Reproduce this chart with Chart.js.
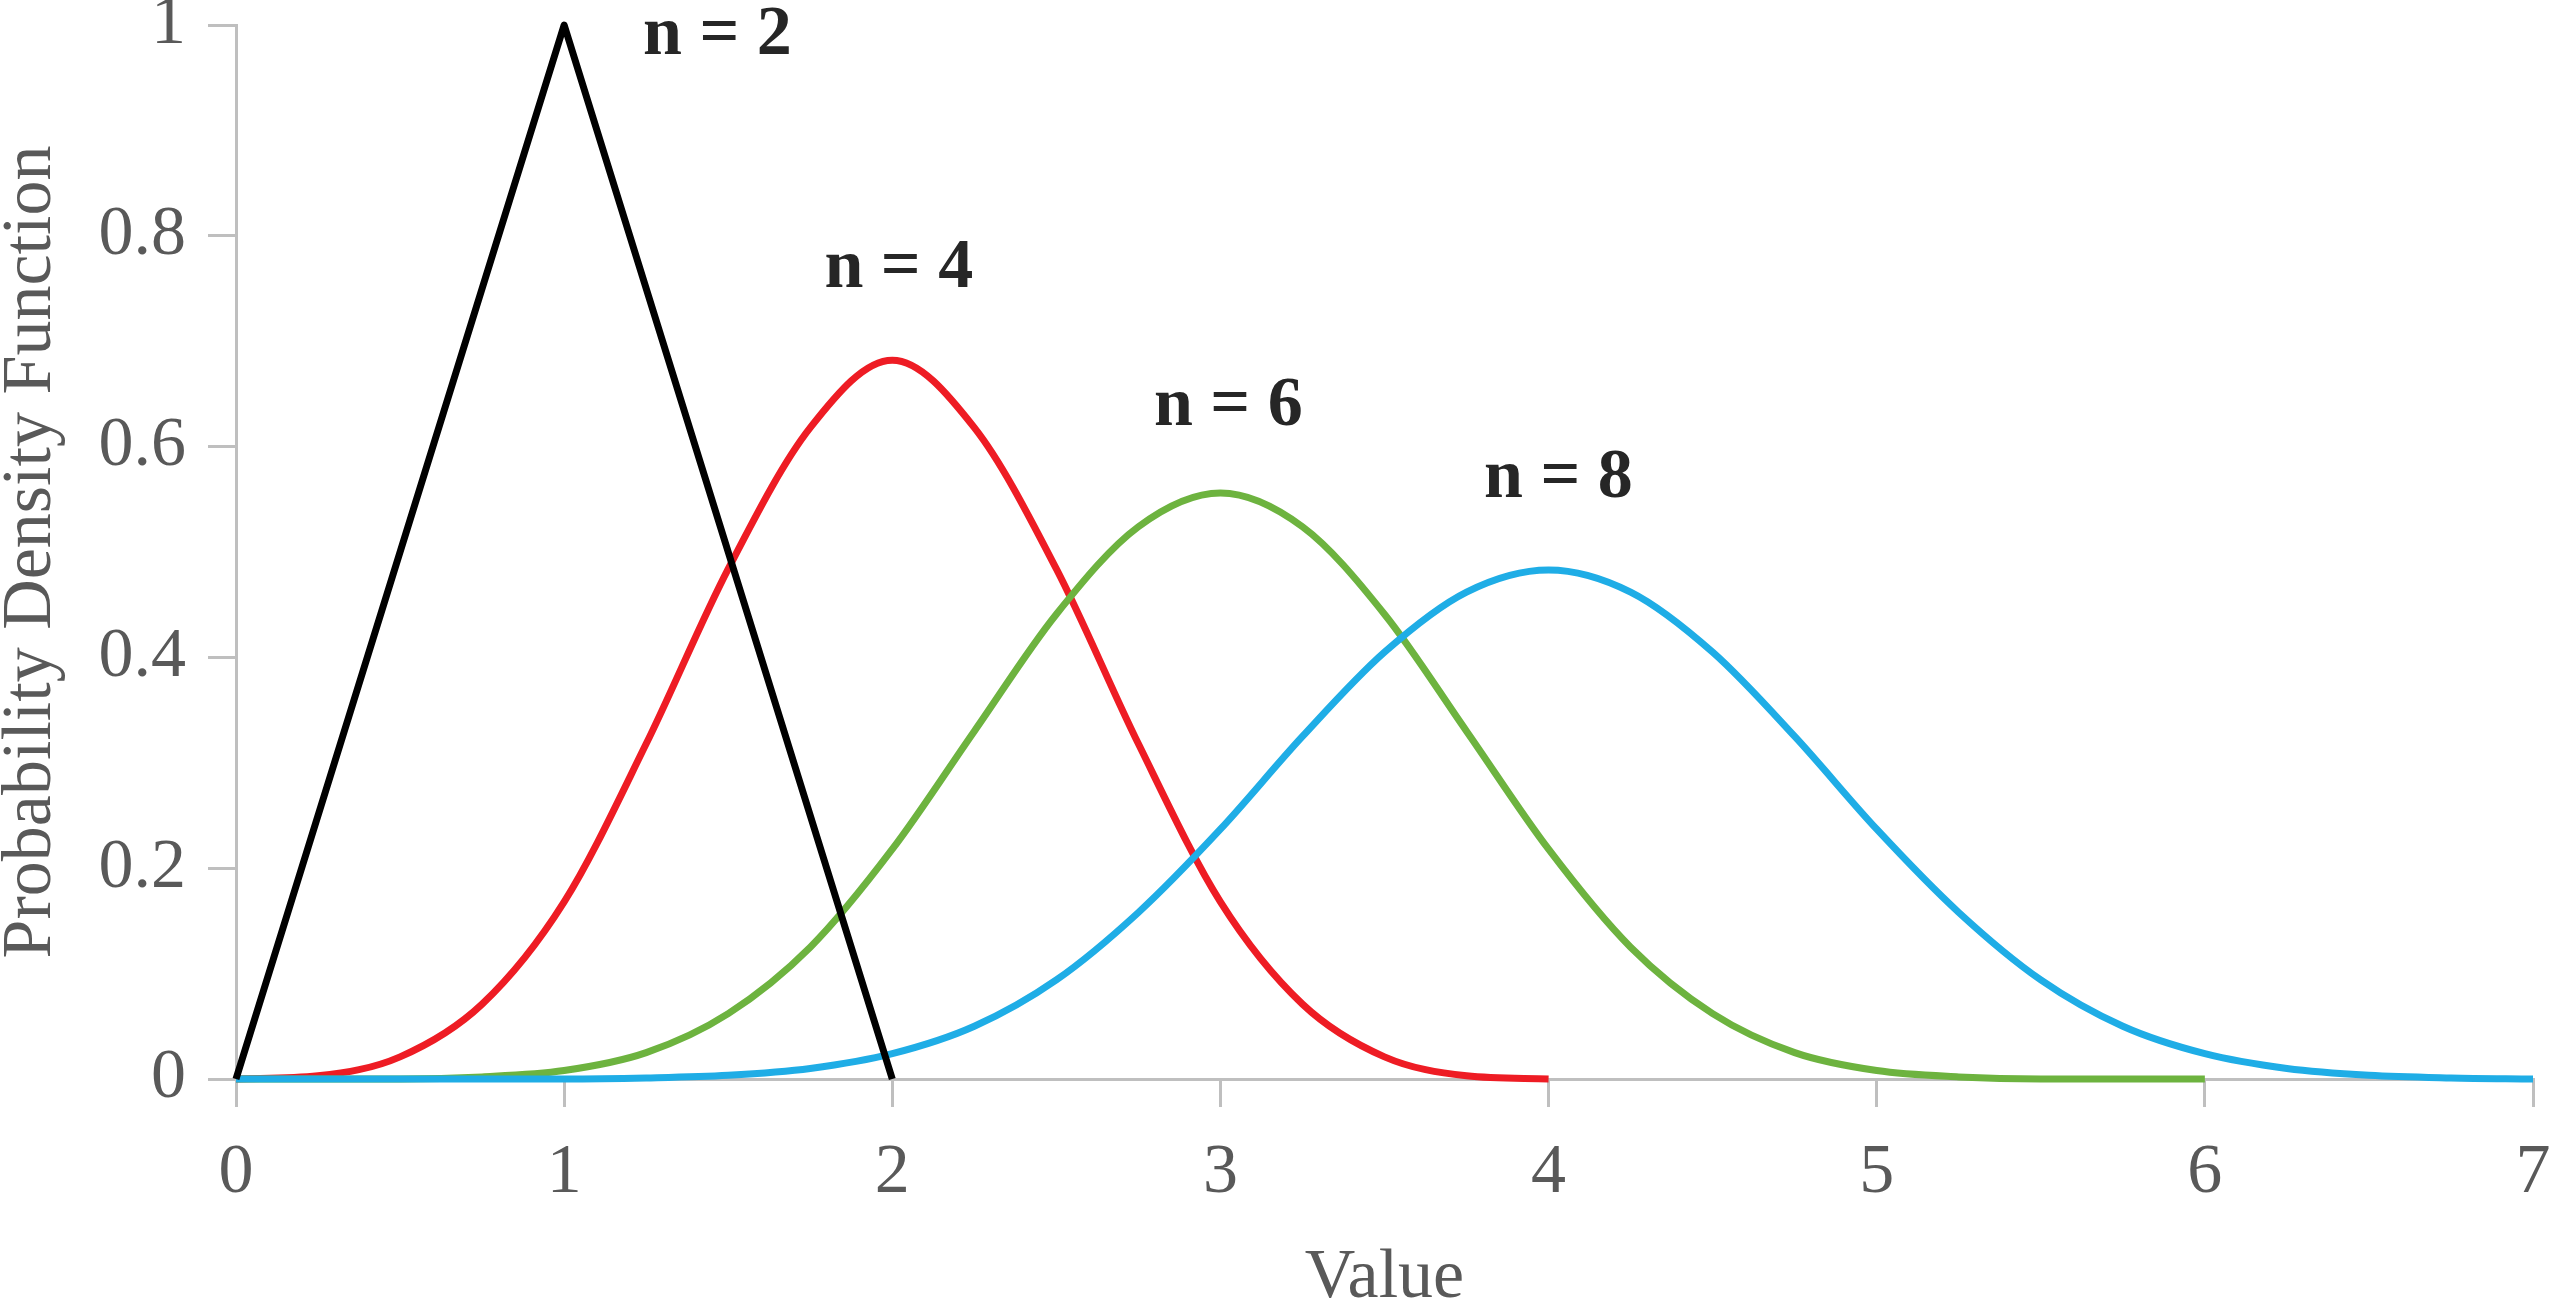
<!DOCTYPE html>
<html>
<head>
<meta charset="utf-8">
<script src="https://cdn.jsdelivr.net/npm/chart.js@4.4.1/dist/chart.umd.min.js"></script>
<style>
  html, body { margin: 0; padding: 0; background: #fff; }
  #wrap { width: 2551px; height: 1307px; }
</style>
</head>
<body>
<div id="wrap"><canvas id="chart-pdf"></canvas></div>
<script>
// values
var blackX = [0, 1, 2];
var blackY = [0, 1, 0];

var redX = [0, 0.25, 0.5, 0.75, 1, 1.25, 1.5, 1.75, 2, 2.25, 2.5, 2.75, 3, 3.25, 3.5, 3.75, 4];
var redY = [0, 0.003, 0.021, 0.071, 0.168, 0.318, 0.484, 0.618, 0.682, 0.618, 0.484, 0.318, 0.168, 0.071, 0.021, 0.003, 0];

var greenX = [0, 0.25, 0.5, 0.75, 1, 1.25, 1.5, 1.75, 2, 2.25, 2.5, 2.75, 3, 3.25, 3.5, 3.75, 4, 4.25, 4.5, 4.75, 5, 5.25, 5.5, 5.75, 6];
var greenY = [0, 0, 0, 0.002, 0.008, 0.025, 0.062, 0.125, 0.218, 0.33, 0.441, 0.524, 0.556, 0.524, 0.441, 0.33, 0.218, 0.125, 0.062, 0.025, 0.008, 0.002, 0, 0, 0];

var blueX = [0, 0.25, 0.5, 0.75, 1, 1.25, 1.5, 1.75, 2, 2.25, 2.5, 2.75, 3, 3.25, 3.5, 3.75, 4, 4.25, 4.5, 4.75, 5, 5.25, 5.5, 5.75, 6, 6.25, 6.5, 6.75, 7];
var blueY = [0, 0, 0, 0, 0, 0.001, 0.0035, 0.01, 0.024, 0.05, 0.094, 0.158, 0.237, 0.325, 0.405, 0.462, 0.483, 0.462, 0.405, 0.325, 0.237, 0.158, 0.094, 0.05, 0.024, 0.01, 0.0035, 0.001, 0];

var xTicks = [0, 1, 2, 3, 4, 5, 6, 7];
var yTicks = [0, 0.2, 0.4, 0.6, 0.8, 1];

var labelText = ["n = 2", "n = 4", "n = 6", "n = 8"];
var labelX = [1.467, 2.02, 3.024, 4.03];
var labelY = [0.99, 0.769, 0.638, 0.569];

function pts(xs, ys) {
    return xs.map(function (x, i) { return { x: x, y: ys[i] }; });
}

var axisGrey = "#bfbfbf";
var textGrey = "#595959";
var serif = "'Liberation Serif', 'Times New Roman', serif";

var curveLabels = {
    id: "curveLabels",
    afterDatasetsDraw: function (chart) {
        var ctx = chart.ctx;
        var xs = chart.scales.x, ys = chart.scales.y;
        ctx.save();
        ctx.font = "bold 70px " + serif;
        ctx.fillStyle = "#262626";
        ctx.textAlign = "center";
        ctx.textBaseline = "middle";
        for (var i = 0; i < labelText.length; i++) {
            ctx.fillText(labelText[i], xs.getPixelForValue(labelX[i]), ys.getPixelForValue(labelY[i]));
        }
        ctx.restore();
    }
};

var ctx = document.getElementById("chart-pdf").getContext("2d");

new Chart(ctx, {
type: "line",
data: {
    datasets: [{
        label: "n = 2",
        data: pts(blackX, blackY),
        borderColor: "#000000",
        borderWidth: 7,
        tension: 0,
        borderJoinStyle: "round",
        pointRadius: 0,
        clip: false
    },
    {
        label: "n = 8",
        data: pts(blueX, blueY),
        borderColor: "#1fade6",
        borderWidth: 7,
        cubicInterpolationMode: "monotone",
        pointRadius: 0,
        clip: false
    },
    {
        label: "n = 6",
        data: pts(greenX, greenY),
        borderColor: "#6db33f",
        borderWidth: 7,
        cubicInterpolationMode: "monotone",
        pointRadius: 0,
        clip: false
    },
    {
        label: "n = 4",
        data: pts(redX, redY),
        borderColor: "#ee1c24",
        borderWidth: 7,
        cubicInterpolationMode: "monotone",
        pointRadius: 0,
        clip: false
    }
    ]
},
options: {
    responsive: true,
    maintainAspectRatio: false,
    animation: false,
    layout: {
        padding: { top: 25, right: 18, left: 0, bottom: 0 }
    },
    plugins: {
        legend: { display: false },
        tooltip: { enabled: false }
    },
    scales: {
        x: {
            type: "linear",
            min: 0,
            max: 7,
            afterBuildTicks: function (scale) {
                scale.ticks = xTicks.map(function (v) { return { value: v }; });
            },
            afterFit: function (scale) {
                scale.height = 228;
                scale.paddingLeft = 0;
                scale.paddingRight = 0;
            },
            border: { display: true, color: axisGrey, width: 3 },
            grid: {
                drawOnChartArea: false,
                drawTicks: true,
                tickLength: 28,
                color: axisGrey,
                lineWidth: 3
            },
            ticks: {
                padding: 25,
                color: textGrey,
                maxRotation: 0,
                font: { size: 70, family: serif }
            },
            title: {
                display: true,
                text: "Value",
                color: textGrey,
                padding: 0,
                font: { size: 70, family: serif, lineHeight: 0.8 }
            }
        },
        y: {
            min: 0,
            max: 1,
            afterBuildTicks: function (scale) {
                scale.ticks = yTicks.map(function (v) { return { value: v }; });
            },
            afterFit: function (scale) {
                scale.width = 236;
                scale.paddingTop = 0;
                scale.paddingBottom = 0;
            },
            border: { display: true, color: axisGrey, width: 3 },
            grid: {
                drawOnChartArea: false,
                drawTicks: true,
                tickLength: 28,
                color: axisGrey,
                lineWidth: 3
            },
            ticks: {
                padding: 22,
                color: textGrey,
                font: { size: 70, family: serif },
                callback: function (v) { return String(Math.round(v * 10) / 10); }
            },
            title: {
                display: true,
                text: "Probability Density Function",
                color: textGrey,
                padding: 0,
                font: { size: 70, family: serif, lineHeight: 0.9 }
            }
        }
    }
},
plugins: [curveLabels]
});
</script>
</body>
</html>
